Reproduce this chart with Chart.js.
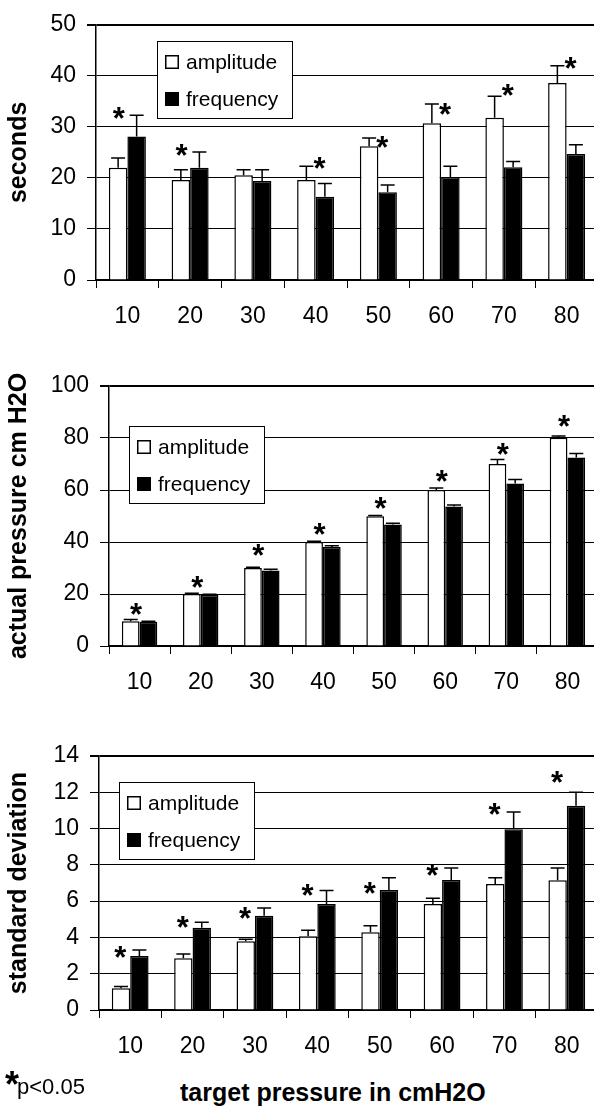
<!DOCTYPE html>
<html>
<head>
<meta charset="utf-8">
<script src="https://cdn.jsdelivr.net/npm/chart.js@4.4.1/dist/chart.umd.min.js"></script>
<style>
html,body{margin:0;padding:0;overflow:hidden;background:#fff;width:594px;height:1109px;position:relative;}
canvas{position:absolute;left:0;}
.txt{position:absolute;white-space:nowrap;color:#000;font-family:"Liberation Sans",Arial,sans-serif;}
#xtitle{font-weight:bold;font-size:25px;line-height:25px;left:180px;top:1080px;}
#fstar{font-weight:bold;font-size:36px;line-height:36px;left:5px;top:1067px;}
#fp{font-size:22px;line-height:22px;left:17px;top:1076px;}
</style>
</head>
<body>
<canvas id="c1" width="600" height="340" style="top:0px;width:600px;height:340px"></canvas>
<canvas id="c2" width="600" height="370" style="top:340px;width:600px;height:370px"></canvas>
<canvas id="c3" width="600" height="370" style="top:700px;width:600px;height:370px"></canvas>
<div class="txt" id="xtitle">target pressure in cmH2O</div>
<div class="txt" id="fstar">*</div>
<div class="txt" id="fp">p&lt;0.05</div>
<script>
// ---- data ----
const categories = ['10', '20', '30', '40', '50', '60', '70', '80'];
const seriesNames = ['amplitude', 'frequency'];

// panel 1: seconds
const secAmp      = [22.0, 19.6, 20.5, 19.6, 26.2, 30.7, 31.8, 38.6];
const secAmpErr   = [1.9, 2.0, 1.1, 2.7, 1.6, 3.8, 4.2, 3.4];
const secFreq     = [28.1, 22.0, 19.4, 16.3, 17.2, 20.2, 22.1, 24.7];
const secFreqErr  = [4.2, 3.1, 2.2, 2.6, 1.4, 2.1, 1.1, 1.8];
const secStars    = [32.8, 25.4, null, 22.9, 27.1, 33.5, 37.3, 42.6];

// panel 2: actual pressure cm H2O
const presAmp     = [9.5, 20.0, 30.0, 40.0, 49.9, 60.0, 70.0, 80.1];
const presAmpErr  = [0.7, 0.3, 0.3, 0.3, 0.3, 0.8, 1.7, 0.7];
const presFreq    = [9.3, 19.6, 29.0, 38.1, 46.7, 53.7, 62.5, 72.5];
const presFreqErr = [0.2, 0.3, 0.5, 0.5, 0.5, 0.5, 1.5, 1.5];
const presStars   = [14.2, 24.7, 36.9, 44.9, 54.9, 65.2, 75.7, 86.6];

// panel 3: standard deviation
const sdAmp       = [1.2, 2.85, 3.79, 4.06, 4.28, 5.84, 6.95, 7.15];
const sdAmpErr    = [0.1, 0.24, 0.11, 0.33, 0.37, 0.32, 0.34, 0.68];
const sdFreq      = [2.98, 4.54, 5.2, 5.84, 6.62, 7.17, 9.96, 11.26];
const sdFreqErr   = [0.33, 0.29, 0.42, 0.74, 0.67, 0.66, 0.96, 0.74];
const sdStars     = [3.2, 4.87, 5.36, 6.63, 6.71, 7.72, 11.06, 12.83];

// ---- plugins ----
const FONT = '"Liberation Sans", Arial, sans-serif';

function errorBarsPlugin(errs) {
  return {
    id: 'errorBars',
    afterDatasetsDraw(chart) {
      const ctx = chart.ctx, ys = chart.scales.y;
      ctx.save();
      ctx.strokeStyle = '#000';
      ctx.lineWidth = 1.5;
      chart.data.datasets.forEach((ds, i) => {
        const meta = chart.getDatasetMeta(i);
        meta.data.forEach((bar, j) => {
          const e = errs[i][j];
          if (e == null) return;
          const yt = ys.getPixelForValue(ds.data[j] + e);
          const x = bar.x;
          ctx.beginPath();
          ctx.moveTo(x, bar.y);
          ctx.lineTo(x, yt);
          ctx.moveTo(x - 7, yt);
          ctx.lineTo(x + 7, yt);
          ctx.stroke();
        });
      });
      ctx.restore();
    }
  };
}

function starsPlugin(levels, shiftFn) {
  return {
    id: 'stars',
    afterDatasetsDraw(chart) {
      const ctx = chart.ctx, xs = chart.scales.x, ys = chart.scales.y;
      ctx.save();
      ctx.font = 'bold 31px ' + FONT;
      ctx.fillStyle = '#000';
      ctx.textAlign = 'left';
      ctx.textBaseline = 'alphabetic';
      const m = ctx.measureText('*');
      const cw = xs.getPixelForValue(1) - xs.getPixelForValue(0);
      levels.forEach((lv, j) => {
        if (lv == null) return;
        const cx = xs.getPixelForValue(j) + shiftFn(j) * cw;
        const cy = ys.getPixelForValue(lv);
        ctx.fillText('*',
          cx - (m.actualBoundingBoxRight - m.actualBoundingBoxLeft) / 2,
          cy + (m.actualBoundingBoxAscent - m.actualBoundingBoxDescent) / 2);
      });
      ctx.restore();
    }
  };
}

function boxLegendPlugin(dx, dy) {
  return {
    id: 'boxLegend',
    afterDatasetsDraw(chart) {
      const ctx = chart.ctx, a = chart.chartArea;
      const L = Math.round(a.left + dx), T = Math.round(a.top + dy), W = 136, H = 78;
      ctx.save();
      ctx.fillStyle = '#fff';
      ctx.fillRect(L, T, W, H);
      ctx.strokeStyle = '#000';
      ctx.lineWidth = 1;
      ctx.strokeRect(L + 0.5, T + 0.5, W - 1, H - 1);
      chart.data.datasets.forEach((ds, i) => {
        const cy = T + 21 + i * 37;
        ctx.fillStyle = ds.backgroundColor;
        ctx.fillRect(L + 8, cy - 7, 14, 14);
        ctx.strokeStyle = '#000';
        ctx.lineWidth = 1.5;
        ctx.strokeRect(L + 8.75, cy - 6.25, 12.5, 12.5);
        ctx.fillStyle = '#000';
        ctx.font = '21px ' + FONT;
        ctx.textBaseline = 'middle';
        ctx.textAlign = 'left';
        ctx.fillText(ds.label, L + 29, cy + 1);
      });
      ctx.restore();
    }
  };
}

function makePanel(id, p) {
  const yMax = p.yMax;
  return new Chart(document.getElementById(id), {
    type: 'bar',
    data: {
      labels: categories,
      datasets: [
        { label: seriesNames[0], data: p.amp, backgroundColor: '#ffffff', borderColor: '#000', borderWidth: 1.5 },
        { label: seriesNames[1], data: p.freq, backgroundColor: '#000000', borderColor: '#000', borderWidth: 1.5 }
      ]
    },
    options: {
      responsive: false,
      animation: false,
      devicePixelRatio: 1,
      categoryPercentage: p.catPct,
      barPercentage: 1.0,
      layout: { padding: { top: p.padTop, left: 0, right: 2, bottom: 0 } },
      plugins: { legend: { display: false }, tooltip: { enabled: false } },
      scales: {
        x: {
          z: 1,
          grid: { display: true, drawOnChartArea: false, drawTicks: true, tickLength: 8, color: '#000', lineWidth: 1, offset: true },
          border: { display: true, color: '#000', width: 2 },
          ticks: { color: '#000', font: { family: FONT, size: 23 }, padding: 15, maxRotation: 0, autoSkip: false },
          afterFit(s) { s.height = p.xH; }
        },
        y: {
          min: 0, max: yMax,
          ticks: { stepSize: p.yStep, color: '#000', font: { family: FONT, size: 23 }, padding: 11 },
          grid: { color: '#000', lineWidth: (c) => (c.tick && c.tick.value === yMax ? 2 : 1), drawTicks: true, tickLength: 9 },
          border: { display: true, color: '#000', width: 1.5 },
          title: { display: true, text: p.yTitle, color: '#000', font: { family: FONT, size: 25, weight: 'bold' }, padding: { top: 4, bottom: 0 } },
          afterFit(s) { s.width = p.yW; }
        }
      }
    },
    plugins: [
      errorBarsPlugin([p.ampErr, p.freqErr]),
      starsPlugin(p.stars, p.shift),
      boxLegendPlugin(p.legDx, p.legDy)
    ]
  });
}

makePanel('c1', {
  amp: secAmp, freq: secFreq, ampErr: secAmpErr, freqErr: secFreqErr, stars: secStars,
  yMax: 50, yStep: 10, yTitle: 'seconds',
  padTop: 16, yW: 96, xH: 60, catPct: 0.59, legDx: 61, legDy: 16,
  shift: (j) => (secAmp[j] + secAmpErr[j] >= secFreq[j] + secFreqErr[j] ? 0.07 : -0.13)
});
makePanel('c2', {
  amp: presAmp, freq: presFreq, ampErr: presAmpErr, freqErr: presFreqErr, stars: presStars,
  yMax: 100, yStep: 20, yTitle: 'actual pressure cm H2O',
  padTop: 46, yW: 109, xH: 64, catPct: 0.58, legDx: 20, legDy: 40,
  shift: () => -0.05
});
makePanel('c3', {
  amp: sdAmp, freq: sdFreq, ampErr: sdAmpErr, freqErr: sdFreqErr, stars: sdStars,
  yMax: 14, yStep: 2, yTitle: 'standard deviation',
  padTop: 56, yW: 99, xH: 60, catPct: 0.59, legDx: 20, legDy: 26,
  shift: () => -0.15
});
</script>
</body>
</html>
